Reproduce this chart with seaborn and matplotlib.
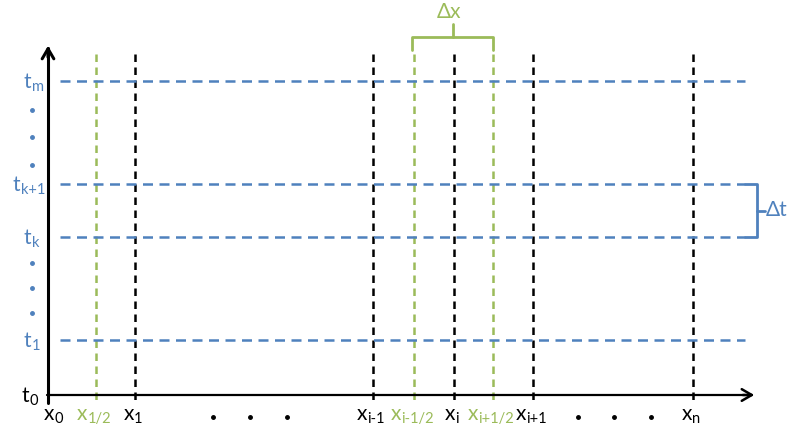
import matplotlib
matplotlib.use("Agg")
import matplotlib.pyplot as plt
import seaborn as sns

# grid node positions (diagram units, y grows downwards)
x_nodes = [48, 135, 373, 454, 533, 693]
x_node_labels = [("x", "0"), ("x", "1"), ("x", "i-1"), ("x", "i"), ("x", "i+1"), ("x", "n")]
x_half = [96, 414, 493]
x_half_labels = [("x", "1/2"), ("x", "i-1/2"), ("x", "i+1/2")]
t_levels = [395, 340, 237, 184, 81]
t_labels = [("t", "0"), ("t", "1"), ("t", "k"), ("t", "k+1"), ("t", "m")]
t_dots = [110, 137, 165, 263, 288, 313]
x_dots = [213, 250, 287, 578, 614, 651]

BLUE = "#4F81BD"
GREEN = "#9BBB59"
BLACK = "#000000"

sns.set_theme(style="white")
plt.rcParams["font.family"] = ["Lato", "DejaVu Sans"]

fig = plt.figure(figsize=(7.96, 4.32), dpi=100)
ax = fig.add_axes([0, 0, 1, 1])
ax.set_xlim(0, 796)
ax.set_ylim(432, 0)
ax.axis("off")
renderer = fig.canvas.get_renderer()


def sub_label(x, y, main, sub, color):
    t1 = ax.text(x, y, main, color=color, fontsize=15, ha="left", va="baseline")
    t2 = ax.annotate(sub, xy=(1, 0), xycoords=t1, xytext=(0.2, 0.8),
                     textcoords="offset points", color=color, fontsize=10.5,
                     ha="left", va="baseline")
    b1 = t1.get_window_extent(renderer)
    b2 = t2.get_window_extent(renderer)
    return t1, b2.x1 - b1.x0


y_top, y_bot = 54, 403
x_axis_y = t_levels[0]
x0 = x_nodes[0]

# vertical dashed grid lines
for xv in x_nodes[1:]:
    ax.plot([xv, xv], [y_top, y_bot], color=BLACK, lw=1.8, ls=(0, (3, 2.2)))
for xv in x_half:
    ax.plot([xv, xv], [y_top, y_bot], color=GREEN, lw=1.8, ls=(0, (3, 2.2)))

# horizontal dashed time levels
for tv in t_levels[1:]:
    ax.plot([60, 745], [tv, tv], color=BLUE, lw=1.8, ls=(0, (4, 2.6)))

# axes arrows
ax.plot([x0 - 1, 752], [x_axis_y, x_axis_y], color=BLACK, lw=1.6)
ax.annotate("", xy=(757, x_axis_y), xytext=(740, x_axis_y),
            arrowprops=dict(arrowstyle="->,head_length=0.6,head_width=0.35", color=BLACK, lw=1.8))
ax.plot([x0, x0], [403, 48], color=BLACK, lw=2.2)
ax.annotate("", xy=(x0, 43), xytext=(x0, 60),
            arrowprops=dict(arrowstyle="->,head_length=0.6,head_width=0.35", color=BLACK, lw=2.2))

# x tick labels, centred under their lines (x_0 sits right of the y axis)
for xv, (m, s) in zip(x_nodes, x_node_labels):
    t, w = sub_label(xv, 420, m, s, BLACK)
    shift = 5 if s == "0" else -2
    t.set_x(xv + shift - w / 2)
for xv, (m, s) in zip(x_half, x_half_labels):
    t, w = sub_label(xv, 420, m, s, GREEN)
    t.set_x(xv - 2 - w / 2)
for xv in x_dots:
    ax.plot(xv, 417, "o", color=BLACK, ms=2.5)

# t labels
for tv, (m, s) in zip(t_levels, t_labels):
    col = BLACK if s == "0" else BLUE
    t, w = sub_label(24, tv + 7, m, s, col)
    t.set_x(min(24 if s != "0" else 22, 45 - w))
for tv in t_dots:
    ax.plot(32, tv, "o", color=BLUE, ms=2.5)

# delta x bracket
bx1, bx2, bxm = x_half[1] - 2, x_half[2], 453
ax.plot([bx1, bx1, bx2, bx2], [50, 37, 37, 50], color=GREEN, lw=2)
ax.plot([bxm, bxm], [37, 24], color=GREEN, lw=2)
ax.text(449, 18, "Δx", color=GREEN, ha="center", va="baseline", fontsize=15)

# delta t bracket
ty1, ty2 = t_levels[3], t_levels[2]
ax.plot([745, 757, 757, 745], [ty1, ty1, ty2, ty2], color=BLUE, lw=2)
ax.plot([757, 765], [211, 211], color=BLUE, lw=2)
ax.text(766, 216, "Δt", color=BLUE, ha="left", va="baseline", fontsize=15)

fig.savefig("out.png", dpi=100)
